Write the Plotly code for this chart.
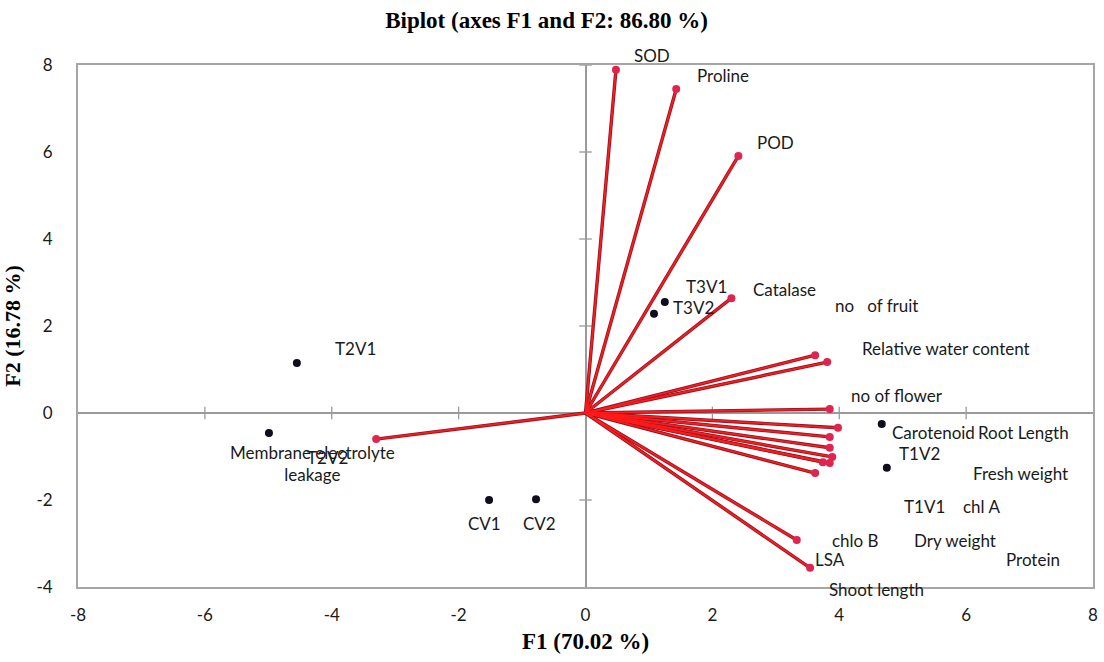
import plotly.graph_objects as go

# ---- variables (loading vectors) ----
var_names = ["SOD", "Proline", "POD", "Catalase", "no   of fruit", "Relative water content",
             "no of flower", "Carotenoid", "Root Length", "Fresh weight", "chl A",
             "Dry weight", "Protein", "Shoot length", "chlo B", "LSA",
             "Membrane electrolyte<br>leakage"]
var_f1 = [0.48, 1.43, 2.41, 2.30, 3.62, 3.81, 3.85, 3.98, 3.85, 3.85, 3.89,
          3.74, 3.85, 3.62, 3.33, 3.54, -3.30]
var_f2 = [7.89, 7.45, 5.91, 2.64, 1.33, 1.17, 0.09, -0.34, -0.55, -0.80, -1.01,
          -1.13, -1.15, -1.38, -2.92, -3.56, -0.60]
# label anchor positions (data units)
var_lab_x = [1.05, 2.17, 2.99, 3.13, 4.59, 5.68, 4.91, 5.48, 6.91, 6.85, 6.25,
             5.82, 7.05, 4.58, 4.25, 3.85, -4.30]
var_lab_y = [8.21, 7.77, 6.21, 2.85, 2.46, 1.49, 0.41, -0.44, -0.44, -1.38, -2.16,
             -2.92, -3.36, -4.05, -2.92, -3.36, -1.15]

# ---- observations ----
obs_names = ["T2V1", "T2V2", "CV1", "CV2", "T3V1", "T3V2", "T1V2", "T1V1"]
obs_f1 = [-4.55, -4.99, -1.52, -0.78, 1.25, 1.08, 4.67, 4.75]
obs_f2 = [1.15, -0.46, -2.00, -1.98, 2.55, 2.28, -0.25, -1.26]
obs_lab_x = [-3.63, -4.06, -1.60, -0.72, 1.90, 1.71, 5.27, 5.35]
obs_lab_y = [1.49, -1.03, -2.53, -2.53, 2.90, 2.42, -0.92, -2.16]

x_ticks = [-8, -6, -4, -2, 0, 2, 4, 6, 8]
y_ticks = [-4, -2, 0, 2, 4, 6, 8]
Y_MIN, Y_MAX = -4, 8

LABEL_FONT = dict(family="Lato, Open Sans, sans-serif", size=17, color="#1a1a1a")
SERIF = "Liberation Serif, Times New Roman, serif"

fig = go.Figure()

# small tick marks across the zero axes
fig.add_trace(go.Scatter(x=[t for t in x_ticks if t not in (0, -8, 8)],
                         y=[0] * 6, mode="markers",
                         marker=dict(symbol="line-ns", size=9, line=dict(color="#9a9a9a", width=1.3)),
                         hoverinfo="skip", showlegend=False))
fig.add_trace(go.Scatter(x=[0] * 5, y=[t for t in y_ticks if t not in (0, -4, 8)] + [8],
                         mode="markers",
                         marker=dict(symbol="line-ew", size=9, line=dict(color="#9a9a9a", width=1.3)),
                         hoverinfo="skip", showlegend=False))

# vectors
lx, ly = [], []
for a, b in zip(var_f1, var_f2):
    lx += [0, a, None]
    ly += [0, b, None]
fig.add_trace(go.Scatter(x=lx, y=ly, mode="lines", line=dict(color="#8a1525", width=3.4),
                         hoverinfo="skip", showlegend=False))
fig.add_trace(go.Scatter(x=lx, y=ly, mode="lines", line=dict(color="#ff1a1a", width=1.8),
                         hoverinfo="skip", showlegend=False))
fig.add_trace(go.Scatter(x=var_f1, y=var_f2, mode="markers",
                         marker=dict(color="#e02450", size=8),
                         hoverinfo="skip", showlegend=False))

# observations
fig.add_trace(go.Scatter(x=obs_f1, y=obs_f2, mode="markers",
                         marker=dict(color="#0e0e1c", size=8),
                         hoverinfo="skip", showlegend=False))


def dom(yv):
    return (yv - Y_MIN) / (Y_MAX - Y_MIN)


for name, x, y in zip(var_names, var_lab_x, var_lab_y):
    fig.add_annotation(x=x, y=dom(y), xref="x", yref="y domain",
                       text=name.replace("   ", "\u00a0\u00a0 "), showarrow=False,
                       xanchor="center", yanchor="middle", font=LABEL_FONT, align="center")
for name, x, y in zip(obs_names, obs_lab_x, obs_lab_y):
    fig.add_annotation(x=x, y=dom(y), xref="x", yref="y domain", text=name, showarrow=False,
                       xanchor="center", yanchor="middle", font=LABEL_FONT)

fig.update_layout(
    width=1104, height=662,
    margin=dict(l=78, r=11, t=65, b=75),
    paper_bgcolor="white", plot_bgcolor="white",
    title=dict(text="<b>Biplot (axes F1 and F2: 86.80 %)</b>", x=0.495, xanchor="center",
               y=0.97, yanchor="middle",
               font=dict(family=SERIF, size=23, color="black")),
    xaxis=dict(range=[-8, 8], tickvals=x_ticks, ticktext=[str(t) for t in x_ticks],
               showgrid=False, zeroline=True, zerolinecolor="#9a9a9a", zerolinewidth=1.5,
               showline=True, linecolor="#a6a6a6", linewidth=2, mirror=True,
               ticks="", ticklabelstandoff=12, automargin=False,
               tickfont=dict(family="Lato, Open Sans, sans-serif", size=17, color="#1a1a1a"),
               title=dict(text="<b>F1 (70.02 %)</b>", standoff=8,
                          font=dict(family=SERIF, size=23, color="black"))),
    yaxis=dict(range=[Y_MIN, Y_MAX], tickvals=y_ticks, ticktext=[str(t) for t in y_ticks],
               showgrid=False, zeroline=True, zerolinecolor="#9a9a9a", zerolinewidth=1.5,
               showline=True, linecolor="#a6a6a6", linewidth=2, mirror=True,
               ticks="", ticklabelstandoff=20, automargin=False,
               tickfont=dict(family="Lato, Open Sans, sans-serif", size=17, color="#1a1a1a"),
               title=dict(text="<b>F2 (16.78 %)</b>", standoff=12,
                          font=dict(family=SERIF, size=22, color="black"))),
)

fig.write_html("out.html")
